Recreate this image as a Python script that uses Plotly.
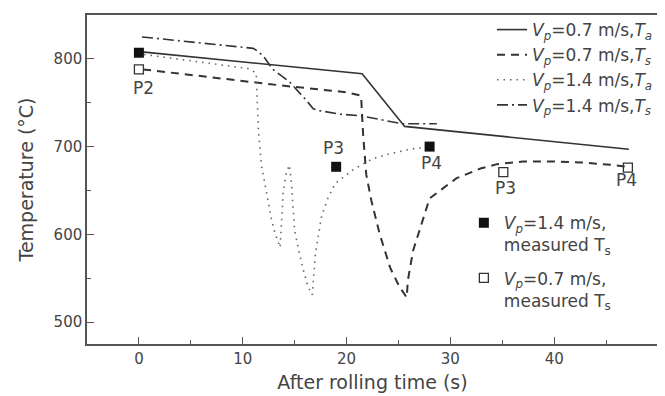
import plotly.graph_objects as go

# ---- data ----
ta07_x = [0.3, 14.2, 21.5, 25.6, 47.2]
ta07_y = [808, 792, 783, 723, 697]

ts07_x = [0.4, 14.2, 20.0, 21.4, 21.6, 21.9, 22.4, 23.2, 24.2, 25.1, 25.8, 25.9, 26.4, 27.1,
          28.0, 30.6, 32.9, 34.5, 37.0, 39.9, 42.5, 45.7, 47.0]
ts07_y = [788, 769, 762, 758, 713, 668, 638, 600, 562, 540, 528, 547, 581, 608,
          641, 664, 675, 680, 683, 683, 682, 679, 677]

ta14_x = [0.5, 10.5, 11.3, 11.5, 11.8, 12.3, 12.8, 13.1, 13.6, 13.7, 13.9, 14.2, 14.5, 14.7,
          14.8, 15.0, 15.4, 15.8, 16.3, 16.7, 17.0, 17.3, 17.6, 18.2, 18.9, 20.0, 20.8,
          22.5, 23.9, 25.0, 26.1, 28.0]
ta14_y = [805, 789, 784, 720, 679, 646, 615, 602, 585, 606, 649, 670, 679, 657,
          634, 604, 581, 561, 540, 531, 578, 600, 621, 641, 658, 668, 675,
          686, 691, 694, 697, 700]

ts14_x = [0.3, 11.0, 11.3, 12.0, 12.9, 14.5, 16.1, 16.8, 17.4, 19.4, 21.4, 25.4, 28.7]
ts14_y = [825, 812, 810, 803, 788, 774, 753, 743, 741, 737, 735, 726, 726]

meas14_x = [0.0, 19.0, 28.0]
meas14_y = [807, 677, 700]
meas07_x = [0.0, 35.1, 47.1]
meas07_y = [788, 671, 676]

point_labels = ["P2", "P3", "P4", "P3", "P4"]
label_x = [0.4, 18.7, 28.2, 35.3, 47.0]
label_y = [767, 698, 681, 653, 662]

x_ticks = [0, 10, 20, 30, 40, 50]
y_ticks = [500, 600, 700, 800]

FONT = "DejaVu Sans"
TXT = "#444444"
LINE = "#333333"

fig = go.Figure()

fig.add_trace(go.Scatter(x=ta07_x, y=ta07_y, mode="lines",
                         line=dict(color=LINE, width=1.6),
                         name="<i>V</i><sub><i>p</i></sub>=0.7 m/s,<i>T</i><sub><i>a</i></sub>",
                         legend="legend"))
fig.add_trace(go.Scatter(x=ts07_x, y=ts07_y, mode="lines",
                         line=dict(color=LINE, width=2, dash="8px,6px"),
                         name="<i>V</i><sub><i>p</i></sub>=0.7 m/s,<i>T</i><sub><i>s</i></sub>",
                         legend="legend"))
fig.add_trace(go.Scatter(x=ta14_x, y=ta14_y, mode="lines",
                         line=dict(color="#666666", width=1.6, dash="1.5px,5px"),
                         name="<i>V</i><sub><i>p</i></sub>=1.4 m/s,<i>T</i><sub><i>a</i></sub>",
                         legend="legend"))
fig.add_trace(go.Scatter(x=ts14_x, y=ts14_y, mode="lines",
                         line=dict(color=LINE, width=1.6, dash="11px,4px,2px,4px"),
                         name="<i>V</i><sub><i>p</i></sub>=1.4 m/s,<i>T</i><sub><i>s</i></sub>",
                         legend="legend"))

fig.add_trace(go.Scatter(x=meas14_x, y=meas14_y, mode="markers",
                         marker=dict(symbol="square", size=10, color="#111111",
                                     line=dict(width=0)),
                         name="<i>V</i><sub><i>p</i></sub>=1.4 m/s,<br>measured T<sub>s</sub>",
                         legend="legend2", legendgroup="a"))
fig.add_trace(go.Scatter(x=meas07_x, y=meas07_y, mode="markers",
                         marker=dict(symbol="square-open", size=9, color="#333333",
                                     line=dict(width=1.3)),
                         name="<i>V</i><sub><i>p</i></sub>=0.7 m/s,<br>measured T<sub>s</sub>",
                         legend="legend2", legendgroup="b"))

for t, x, y in zip(point_labels, label_x, label_y):
    fig.add_annotation(x=x, y=y, text=t, showarrow=False,
                       font=dict(family=FONT, size=17, color=TXT))

axis_common = dict(showline=True, linecolor="#555555", linewidth=1.5, mirror=True,
                   ticks="inside", ticklen=7, tickwidth=1.3, tickcolor="#555555",
                   showgrid=False, zeroline=False,
                   tickfont=dict(family=FONT, size=15, color=TXT),
                   minor=dict(ticks="inside", ticklen=4, tickwidth=1, tickcolor="#555555"))

fig.update_xaxes(range=[-5, 50], tickvals=x_ticks, minor_dtick=5,
                 title=dict(text="After rolling time (s)", font=dict(family=FONT, size=19, color=TXT),
                            standoff=9),
                 **axis_common)
fig.update_yaxes(range=[475, 850], tickvals=y_ticks, minor_dtick=50,
                 title=dict(text="Temperature (°C)", font=dict(family=FONT, size=19, color=TXT),
                            standoff=15),
                 **axis_common)

# the page body has an 8px margin, so the figure is sized to fit the 665x396 window
fig.update_layout(
    width=657, height=388,
    margin=dict(l=79, r=7, t=4, b=52),
    paper_bgcolor="white", plot_bgcolor="white",
    font=dict(family=FONT, color=TXT),
    legend=dict(x=1, y=1.009, xanchor="right", yanchor="top",
                bgcolor="rgba(0,0,0,0)", borderwidth=0,
                font=dict(family=FONT, size=17, color=TXT), tracegroupgap=0),
    legend2=dict(x=0.66, y=0.422, xanchor="left", yanchor="top",
                 bgcolor="rgba(0,0,0,0)", borderwidth=0, valign="top",
                 font=dict(family=FONT, size=17, color=TXT), tracegroupgap=8),
)

fig.write_html("out.html")
